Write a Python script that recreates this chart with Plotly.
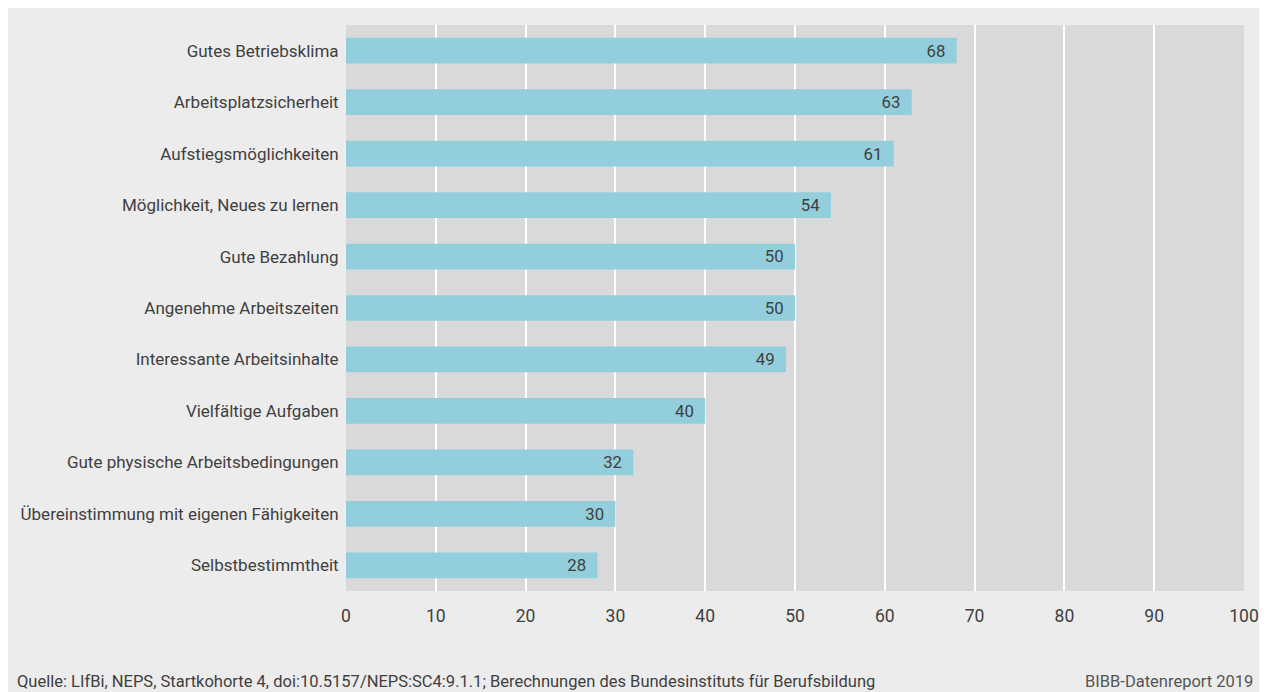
import plotly.graph_objects as go

categories = [
    "Gutes Betriebsklima",
    "Arbeitsplatzsicherheit",
    "Aufstiegsmöglichkeiten",
    "Möglichkeit, Neues zu lernen",
    "Gute Bezahlung",
    "Angenehme Arbeitszeiten",
    "Interessante Arbeitsinhalte",
    "Vielfältige Aufgaben",
    "Gute physische Arbeitsbedingungen",
    "Übereinstimmung mit eigenen Fähigkeiten",
    "Selbstbestimmtheit",
]
values = [68, 63, 61, 54, 50, 50, 49, 40, 32, 30, 28]
x_ticks = [0, 10, 20, 30, 40, 50, 60, 70, 80, 90, 100]

FONT = "Roboto, sans-serif"
TXT = "#3f3f3f"

W, H = 1255, 684
L, R, T, B = 338, 19, 17, 101
PW, PH = W - L - R, H - T - B

fig = go.Figure()
fig.add_trace(go.Bar(
    x=values, y=categories, orientation="h",
    marker=dict(color="#93cedd", line=dict(width=0)),
    text=[f"{v}\u00a0\u00a0" for v in values],
    textposition="inside", insidetextanchor="end",
    textfont=dict(family=FONT, size=17, color=TXT),
    hoverinfo="skip",
))

fig.update_layout(
    width=W, height=H,
    margin=dict(l=L, r=R, t=T, b=B),
    paper_bgcolor="#ececec", plot_bgcolor="#d9d9d9",
    bargap=0.5, showlegend=False,
    font=dict(family=FONT, color=TXT),
)
fig.update_xaxes(
    range=[0, 100], tickvals=x_ticks, showgrid=True, gridcolor="white", gridwidth=2,
    zeroline=False, showline=False, ticks="outside", ticklen=9, tickcolor="rgba(0,0,0,0)",
    tickfont=dict(family=FONT, size=17.5, color=TXT), fixedrange=True, automargin=False,
)
fig.update_yaxes(
    autorange="reversed", showgrid=False, zeroline=False, showline=False,
    ticks="outside", ticklen=3, tickcolor="rgba(0,0,0,0)",
    tickfont=dict(family=FONT, size=17, color=TXT), automargin=False,
)

fy = (PH + T - 673) / PH
fig.add_annotation(text="Quelle: LIfBi, NEPS, Startkohorte 4, doi:10.5157/NEPS:SC4:9.1.1; Berechnungen des Bundesinstituts für Berufsbildung",
                   xref="paper", yref="paper", x=(7 - L) / PW, y=fy,
                   xanchor="left", yanchor="middle", showarrow=False,
                   font=dict(family=FONT, size=16.5, color=TXT))
fig.add_annotation(text="BIBB-Datenreport 2019",
                   xref="paper", yref="paper", x=(1247 - L) / PW, y=fy,
                   xanchor="right", yanchor="middle", showarrow=False,
                   font=dict(family=FONT, size=16.5, color="#555555"))

fig.write_html("out.html")
